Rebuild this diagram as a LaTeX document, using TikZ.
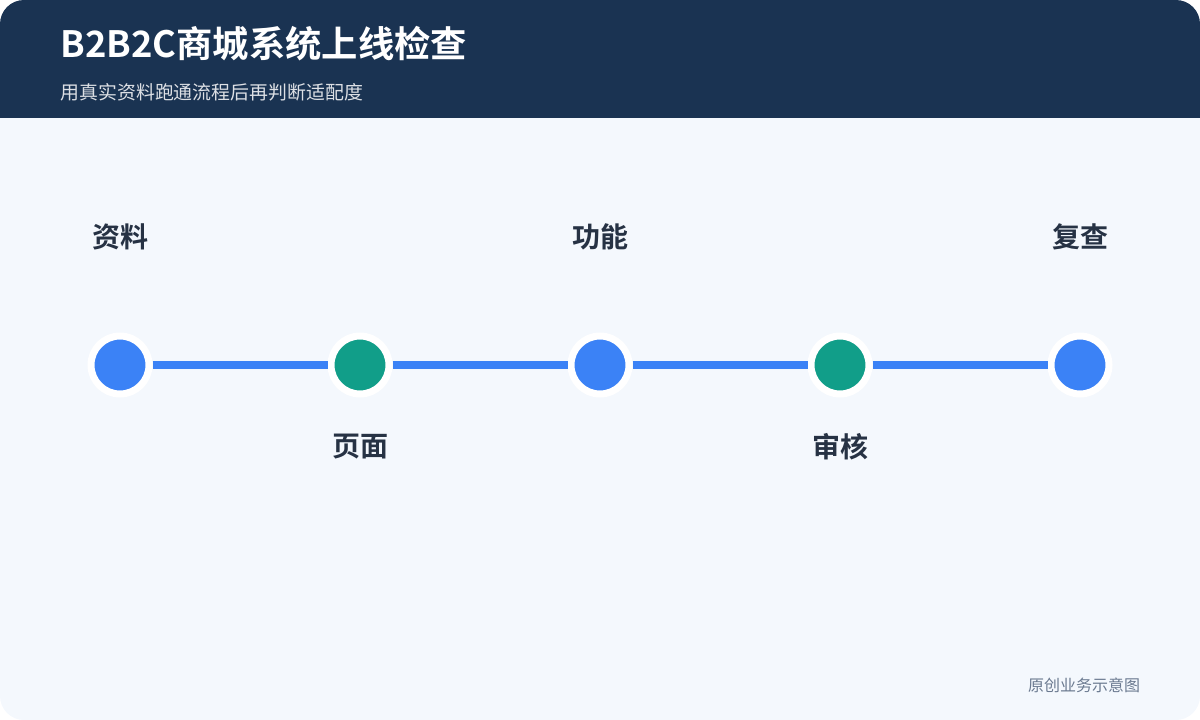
\documentclass[tikz,border=0pt]{standalone}
\usepackage{fontspec}
\setmainfont{Noto Sans CJK SC}
\newfontfamily\cjkb{Noto Sans CJK SC Bold}
\definecolor{hdr}{HTML}{1A3352}
\definecolor{bg}{HTML}{F4F8FD}
\definecolor{blu}{HTML}{3B82F6}
\definecolor{tea}{HTML}{119E89}
\definecolor{lbl}{HTML}{263244}
\definecolor{foot}{HTML}{6B7A90}
\begin{document}
\begin{tikzpicture}[x=1pt,y=-1pt,
  dot/.style={circle,minimum size=58pt,inner sep=0pt,draw=white,line width=7pt},
  lab/.style={font=\cjkb\fontsize{28}{32}\selectfont,text=lbl},
  link/.style={blu,line width=8pt}]
\useasboundingbox (0,0) rectangle (1200,720);
\fill[bg,rounded corners=24pt] (0,0) rectangle (1200,720);
\fill[hdr,rounded corners=24pt] (0,0) rectangle (1200,60);
\fill[hdr] (0,30) rectangle (1200,118);
\node[anchor=west,text=white,font=\cjkb\fontsize{36.3}{41}\selectfont] (t) at (57,44) {B2B2C商城系统上线检查};
\node[anchor=west,text=white!85!hdr,font=\fontsize{18.9}{22}\selectfont] (s) at (57,92) {用真实资料跑通流程后再判断适配度};
\node[dot,fill=blu] (a) at (120,365) {};
\node[dot,fill=tea] (b) at (360,365) {};
\node[dot,fill=blu] (c) at (600,365) {};
\node[dot,fill=tea] (d) at (840,365) {};
\node[dot,fill=blu] (e) at (1080,365) {};
\draw[link] (a) -- (b); \draw[link] (b) -- (c); \draw[link] (c) -- (d); \draw[link] (d) -- (e);
\node[lab] (la) at (120,237) {资料};
\node[lab] (lc) at (600,237) {功能};
\node[lab] (le) at (1080,237) {复查};
\node[lab] (lb) at (360,447) {页面};
\node[lab] (ld) at (840,447) {审核};
\node[text=foot,font=\fontsize{16}{19}\selectfont] (f) at (1084,685) {原创业务示意图};
\end{tikzpicture}
\end{document}
